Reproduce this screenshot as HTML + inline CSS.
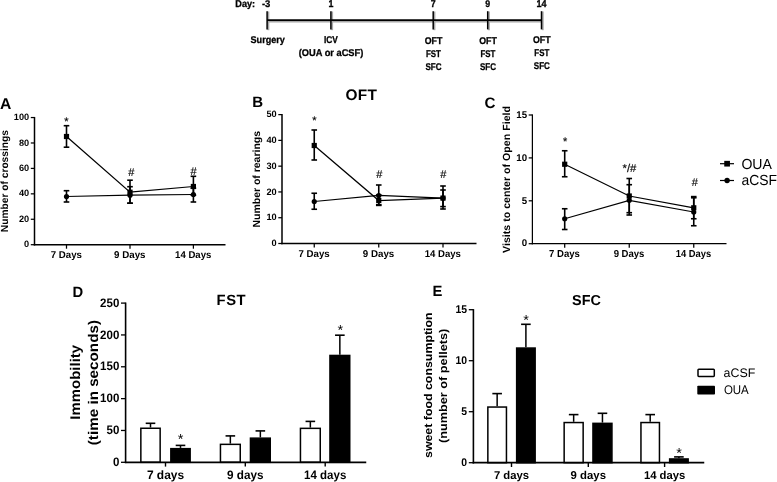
<!DOCTYPE html>
<html lang="en"><head><meta charset="utf-8"><title>Figure</title>
<style>html,body{margin:0;padding:0;background:#fff;}body{width:777px;height:482px;overflow:hidden;}svg{display:block;}text{font-family:'Liberation Sans', Arial, sans-serif;fill:#000;}</style>
</head><body>
<svg width="777" height="482" viewBox="0 0 777 482" text-rendering="geometricPrecision">
<rect width="777" height="482" fill="#fff"/>
<g id="timeline" stroke="#000" stroke-width="0.3">
<line x1="267" y1="21.5" x2="542.5" y2="21.5" stroke="#a8a8a8" stroke-width="1.8"/>
<line x1="268.4" y1="11.5" x2="268.4" y2="30.2" stroke="#a8a8a8" stroke-width="1.8"/>
<line x1="332.2" y1="11.5" x2="332.2" y2="30.2" stroke="#a8a8a8" stroke-width="1.8"/>
<line x1="434.5" y1="11.5" x2="434.5" y2="30.2" stroke="#a8a8a8" stroke-width="1.8"/>
<line x1="489.0" y1="11.5" x2="489.0" y2="30.2" stroke="#a8a8a8" stroke-width="1.8"/>
<line x1="542.8" y1="11.5" x2="542.8" y2="30.2" stroke="#a8a8a8" stroke-width="1.8"/>
<line x1="267.1" y1="20.1" x2="541.5" y2="20.1" stroke="#000" stroke-width="1.6" />
<line x1="267.1" y1="11.2" x2="267.1" y2="29.4" stroke="#000" stroke-width="1.5" />
<line x1="330.9" y1="11.2" x2="330.9" y2="29.4" stroke="#000" stroke-width="1.5" />
<line x1="433.2" y1="11.2" x2="433.2" y2="29.4" stroke="#000" stroke-width="1.5" />
<line x1="487.7" y1="11.2" x2="487.7" y2="29.4" stroke="#000" stroke-width="1.5" />
<line x1="541.5" y1="11.2" x2="541.5" y2="29.4" stroke="#000" stroke-width="1.5" />
<text x="235.3" y="6.9" font-size="9.8" font-weight="bold" text-anchor="start" textLength="19.8" lengthAdjust="spacingAndGlyphs" >Day:</text>
<text x="261.9" y="6.9" font-size="9.8" font-weight="bold" text-anchor="start" textLength="8.4" lengthAdjust="spacingAndGlyphs" >-3</text>
<text x="328.45" y="6.9" font-size="9.8" font-weight="bold" text-anchor="start" textLength="4.9" lengthAdjust="spacingAndGlyphs" >1</text>
<text x="430.75" y="6.9" font-size="9.8" font-weight="bold" text-anchor="start" textLength="4.9" lengthAdjust="spacingAndGlyphs" >7</text>
<text x="485.25" y="6.9" font-size="9.8" font-weight="bold" text-anchor="start" textLength="4.9" lengthAdjust="spacingAndGlyphs" >9</text>
<text x="536.5" y="6.9" font-size="9.8" font-weight="bold" text-anchor="start" textLength="10" lengthAdjust="spacingAndGlyphs" >14</text>
<text x="250.55" y="43.2" font-size="9.8" font-weight="bold" text-anchor="start" textLength="34.3" lengthAdjust="spacingAndGlyphs" >Surgery</text>
<text x="324.0" y="43.3" font-size="9.8" font-weight="bold" text-anchor="start" textLength="13.8" lengthAdjust="spacingAndGlyphs" >ICV</text>
<text x="298.75" y="55.8" font-size="9.8" font-weight="bold" text-anchor="start" textLength="64.5" lengthAdjust="spacingAndGlyphs" >(OUA or aCSF)</text>
<text x="424.7" y="43.5" font-size="9.8" font-weight="bold" text-anchor="start" textLength="17.6" lengthAdjust="spacingAndGlyphs" >OFT</text>
<text x="426.05" y="56.5" font-size="9.8" font-weight="bold" text-anchor="start" textLength="14.9" lengthAdjust="spacingAndGlyphs" >FST</text>
<text x="425.5" y="69.5" font-size="9.8" font-weight="bold" text-anchor="start" textLength="16" lengthAdjust="spacingAndGlyphs" >SFC</text>
<text x="479.2" y="43.5" font-size="9.8" font-weight="bold" text-anchor="start" textLength="17.6" lengthAdjust="spacingAndGlyphs" >OFT</text>
<text x="480.55" y="56.5" font-size="9.8" font-weight="bold" text-anchor="start" textLength="14.9" lengthAdjust="spacingAndGlyphs" >FST</text>
<text x="480.0" y="69.5" font-size="9.8" font-weight="bold" text-anchor="start" textLength="16" lengthAdjust="spacingAndGlyphs" >SFC</text>
<text x="533.0" y="42.7" font-size="9.8" font-weight="bold" text-anchor="start" textLength="17.6" lengthAdjust="spacingAndGlyphs" >OFT</text>
<text x="534.35" y="55.7" font-size="9.8" font-weight="bold" text-anchor="start" textLength="14.9" lengthAdjust="spacingAndGlyphs" >FST</text>
<text x="533.8" y="68.7" font-size="9.8" font-weight="bold" text-anchor="start" textLength="16" lengthAdjust="spacingAndGlyphs" >SFC</text>
</g>
<g id="panelA">
<text x="0" y="108.6" font-size="15.7" font-weight="bold" text-anchor="start" >A</text>
<line x1="34.5" y1="116.95" x2="34.5" y2="245.45" stroke="#000" stroke-width="1.5" />
<line x1="33.75" y1="244.7" x2="225.5" y2="244.7" stroke="#000" stroke-width="1.5" />
<line x1="30.8" y1="244.7" x2="34.5" y2="244.7" stroke="#000" stroke-width="1.25" />
<text x="29.2" y="247.34" font-size="9.2" font-weight="bold" text-anchor="end" >0</text>
<line x1="30.8" y1="219.27" x2="34.5" y2="219.27" stroke="#000" stroke-width="1.25" />
<text x="29.2" y="221.91" font-size="9.2" font-weight="bold" text-anchor="end" >20</text>
<line x1="30.8" y1="193.84" x2="34.5" y2="193.84" stroke="#000" stroke-width="1.25" />
<text x="29.2" y="196.48" font-size="9.2" font-weight="bold" text-anchor="end" >40</text>
<line x1="30.8" y1="168.41" x2="34.5" y2="168.41" stroke="#000" stroke-width="1.25" />
<text x="29.2" y="171.05" font-size="9.2" font-weight="bold" text-anchor="end" >60</text>
<line x1="30.8" y1="142.98" x2="34.5" y2="142.98" stroke="#000" stroke-width="1.25" />
<text x="29.2" y="145.62" font-size="9.2" font-weight="bold" text-anchor="end" >80</text>
<line x1="30.8" y1="117.55" x2="34.5" y2="117.55" stroke="#000" stroke-width="1.25" />
<text x="29.2" y="120.19" font-size="9.2" font-weight="bold" text-anchor="end" >100</text>
<line x1="66.5" y1="244.7" x2="66.5" y2="248.7" stroke="#000" stroke-width="1.25" />
<text x="50.7" y="257.6" font-size="9.9" font-weight="bold" text-anchor="start" textLength="31.2" lengthAdjust="spacingAndGlyphs" >7 Days</text>
<line x1="130.0" y1="244.7" x2="130.0" y2="248.7" stroke="#000" stroke-width="1.25" />
<text x="114.1" y="257.6" font-size="9.9" font-weight="bold" text-anchor="start" textLength="31.4" lengthAdjust="spacingAndGlyphs" >9 Days</text>
<line x1="193.4" y1="244.7" x2="193.4" y2="248.7" stroke="#000" stroke-width="1.25" />
<text x="175.1" y="257.6" font-size="9.9" font-weight="bold" text-anchor="start" textLength="36.2" lengthAdjust="spacingAndGlyphs" >14 Days</text>
<text transform="translate(8.4 232.2) rotate(-90)" font-size="10.3" font-weight="bold" text-anchor="start" textLength="102.2" lengthAdjust="spacingAndGlyphs">Number of crossings</text>
<polyline points="66.5,196.5 130.0,195.2 193.4,194.5" fill="none" stroke="#000" stroke-width="1.25"/>
<polyline points="66.5,136.5 130.0,192.2 193.4,186.5" fill="none" stroke="#000" stroke-width="1.25"/>
<line x1="66.5" y1="190.7" x2="66.5" y2="202" stroke="#000" stroke-width="1.6" />
<line x1="63.7" y1="190.7" x2="69.3" y2="190.7" stroke="#000" stroke-width="1.6" />
<line x1="63.7" y1="202" x2="69.3" y2="202" stroke="#000" stroke-width="1.6" />
<circle cx="66.5" cy="196.5" r="2.6" fill="#000"/>
<line x1="130.0" y1="186.7" x2="130.0" y2="203.2" stroke="#000" stroke-width="1.6" />
<line x1="127.2" y1="186.7" x2="132.8" y2="186.7" stroke="#000" stroke-width="1.6" />
<line x1="127.2" y1="203.2" x2="132.8" y2="203.2" stroke="#000" stroke-width="1.6" />
<circle cx="130.0" cy="195.2" r="2.6" fill="#000"/>
<line x1="193.4" y1="188.2" x2="193.4" y2="202" stroke="#000" stroke-width="1.6" />
<line x1="190.6" y1="188.2" x2="196.2" y2="188.2" stroke="#000" stroke-width="1.6" />
<line x1="190.6" y1="202" x2="196.2" y2="202" stroke="#000" stroke-width="1.6" />
<circle cx="193.4" cy="194.5" r="2.6" fill="#000"/>
<line x1="66.5" y1="125.7" x2="66.5" y2="147.2" stroke="#000" stroke-width="1.6" />
<line x1="63.7" y1="125.7" x2="69.3" y2="125.7" stroke="#000" stroke-width="1.6" />
<line x1="63.7" y1="147.2" x2="69.3" y2="147.2" stroke="#000" stroke-width="1.6" />
<rect x="63.9" y="133.9" width="5.2" height="5.2" fill="#000"/>
<line x1="130.0" y1="180.2" x2="130.0" y2="203.2" stroke="#000" stroke-width="1.6" />
<line x1="127.2" y1="180.2" x2="132.8" y2="180.2" stroke="#000" stroke-width="1.6" />
<line x1="127.2" y1="203.2" x2="132.8" y2="203.2" stroke="#000" stroke-width="1.6" />
<rect x="127.4" y="189.6" width="5.2" height="5.2" fill="#000"/>
<line x1="193.4" y1="176.3" x2="193.4" y2="195.2" stroke="#000" stroke-width="1.6" />
<line x1="190.6" y1="176.3" x2="196.2" y2="176.3" stroke="#000" stroke-width="1.6" />
<line x1="190.6" y1="195.2" x2="196.2" y2="195.2" stroke="#000" stroke-width="1.6" />
<rect x="190.8" y="183.9" width="5.2" height="5.2" fill="#000"/>
<text x="66.5" y="124.65" font-size="11" font-weight="normal" text-anchor="middle" fill="#222" stroke="#222" stroke-width="0.2">*</text>
<text x="131.3" y="175.6" font-size="11" font-weight="normal" text-anchor="middle" fill="#222" stroke="#222" stroke-width="0.2">#</text>
<text x="193.6" y="174.6" font-size="11" font-weight="normal" text-anchor="middle" fill="#222" stroke="#222" stroke-width="0.2">#</text>
</g>
<g id="panelB">
<text x="252.2" y="107.4" font-size="15" font-weight="bold" text-anchor="start" >B</text>
<line x1="282" y1="114.0" x2="282" y2="244.25" stroke="#000" stroke-width="1.5" />
<line x1="281.25" y1="243.5" x2="476.5" y2="243.5" stroke="#000" stroke-width="1.5" />
<line x1="278.3" y1="243.5" x2="282" y2="243.5" stroke="#000" stroke-width="1.25" />
<text x="276.7" y="246.14" font-size="9.2" font-weight="bold" text-anchor="end" >0</text>
<line x1="278.3" y1="217.72" x2="282" y2="217.72" stroke="#000" stroke-width="1.25" />
<text x="276.7" y="220.36" font-size="9.2" font-weight="bold" text-anchor="end" >10</text>
<line x1="278.3" y1="191.94" x2="282" y2="191.94" stroke="#000" stroke-width="1.25" />
<text x="276.7" y="194.58" font-size="9.2" font-weight="bold" text-anchor="end" >20</text>
<line x1="278.3" y1="166.16" x2="282" y2="166.16" stroke="#000" stroke-width="1.25" />
<text x="276.7" y="168.8" font-size="9.2" font-weight="bold" text-anchor="end" >30</text>
<line x1="278.3" y1="140.38" x2="282" y2="140.38" stroke="#000" stroke-width="1.25" />
<text x="276.7" y="143.02" font-size="9.2" font-weight="bold" text-anchor="end" >40</text>
<line x1="278.3" y1="114.6" x2="282" y2="114.6" stroke="#000" stroke-width="1.25" />
<text x="276.7" y="117.24" font-size="9.2" font-weight="bold" text-anchor="end" >50</text>
<line x1="314.25" y1="243.5" x2="314.25" y2="247.5" stroke="#000" stroke-width="1.25" />
<text x="298.45" y="257.3" font-size="9.9" font-weight="bold" text-anchor="start" textLength="31.2" lengthAdjust="spacingAndGlyphs" >7 Days</text>
<line x1="378.75" y1="243.5" x2="378.75" y2="247.5" stroke="#000" stroke-width="1.25" />
<text x="362.85" y="257.3" font-size="9.9" font-weight="bold" text-anchor="start" textLength="31.4" lengthAdjust="spacingAndGlyphs" >9 Days</text>
<line x1="443" y1="243.5" x2="443" y2="247.5" stroke="#000" stroke-width="1.25" />
<text x="424.7" y="257.3" font-size="9.9" font-weight="bold" text-anchor="start" textLength="36.2" lengthAdjust="spacingAndGlyphs" >14 Days</text>
<text transform="translate(260 227.5) rotate(-90)" font-size="10.3" font-weight="bold" text-anchor="start" textLength="96.5" lengthAdjust="spacingAndGlyphs">Number of rearings</text>
<polyline points="314.25,201.5 378.75,195.5 443,198.1" fill="none" stroke="#000" stroke-width="1.25"/>
<polyline points="314.25,145.5 378.75,200.5 443,198.1" fill="none" stroke="#000" stroke-width="1.25"/>
<line x1="314.25" y1="193.25" x2="314.25" y2="209.25" stroke="#000" stroke-width="1.6" />
<line x1="311.45" y1="193.25" x2="317.05" y2="193.25" stroke="#000" stroke-width="1.6" />
<line x1="311.45" y1="209.25" x2="317.05" y2="209.25" stroke="#000" stroke-width="1.6" />
<circle cx="314.25" cy="201.5" r="2.6" fill="#000"/>
<line x1="378.75" y1="185" x2="378.75" y2="205.4" stroke="#000" stroke-width="1.6" />
<line x1="375.95" y1="185" x2="381.55" y2="185" stroke="#000" stroke-width="1.6" />
<line x1="375.95" y1="205.4" x2="381.55" y2="205.4" stroke="#000" stroke-width="1.6" />
<circle cx="378.75" cy="195.5" r="2.6" fill="#000"/>
<line x1="443" y1="186" x2="443" y2="209.0" stroke="#000" stroke-width="1.6" />
<line x1="440.2" y1="186" x2="445.8" y2="186" stroke="#000" stroke-width="1.6" />
<line x1="440.2" y1="209.0" x2="445.8" y2="209.0" stroke="#000" stroke-width="1.6" />
<circle cx="443" cy="198.1" r="2.6" fill="#000"/>
<line x1="314.25" y1="130" x2="314.25" y2="160" stroke="#000" stroke-width="1.6" />
<line x1="311.45" y1="130" x2="317.05" y2="130" stroke="#000" stroke-width="1.6" />
<line x1="311.45" y1="160" x2="317.05" y2="160" stroke="#000" stroke-width="1.6" />
<rect x="311.65" y="142.9" width="5.2" height="5.2" fill="#000"/>
<line x1="378.75" y1="195" x2="378.75" y2="204.7" stroke="#000" stroke-width="1.6" />
<line x1="375.95" y1="195" x2="381.55" y2="195" stroke="#000" stroke-width="1.6" />
<line x1="375.95" y1="204.7" x2="381.55" y2="204.7" stroke="#000" stroke-width="1.6" />
<rect x="376.15" y="197.9" width="5.2" height="5.2" fill="#000"/>
<line x1="443" y1="190" x2="443" y2="206.6" stroke="#000" stroke-width="1.6" />
<line x1="440.2" y1="190" x2="445.8" y2="190" stroke="#000" stroke-width="1.6" />
<line x1="440.2" y1="206.6" x2="445.8" y2="206.6" stroke="#000" stroke-width="1.6" />
<rect x="440.4" y="195.5" width="5.2" height="5.2" fill="#000"/>
<text x="314.4" y="124.45" font-size="11" font-weight="normal" text-anchor="middle" fill="#222" stroke="#222" stroke-width="0.2">*</text>
<text x="379.4" y="178.3" font-size="11" font-weight="normal" text-anchor="middle" fill="#222" stroke="#222" stroke-width="0.2">#</text>
<text x="443.3" y="178.3" font-size="11" font-weight="normal" text-anchor="middle" fill="#222" stroke="#222" stroke-width="0.2">#</text>
</g>
<text x="361.3" y="99.5" font-size="15.4" font-weight="bold" text-anchor="middle" letter-spacing="0.3">OFT</text>
<g id="panelC">
<text x="484.6" y="108.0" font-size="15.2" font-weight="bold" text-anchor="start" >C</text>
<line x1="532.4" y1="114.4" x2="532.4" y2="244.32" stroke="#000" stroke-width="1.25" />
<line x1="531.77" y1="243.7" x2="726.5" y2="243.7" stroke="#000" stroke-width="1.25" />
<line x1="528.7" y1="243.7" x2="532.4" y2="243.7" stroke="#000" stroke-width="1.25" />
<text x="527.1" y="246.48" font-size="9.7" font-weight="bold" text-anchor="end" >0</text>
<line x1="528.7" y1="200.8" x2="532.4" y2="200.8" stroke="#000" stroke-width="1.25" />
<text x="527.1" y="203.58" font-size="9.7" font-weight="bold" text-anchor="end" >5</text>
<line x1="528.7" y1="157.9" x2="532.4" y2="157.9" stroke="#000" stroke-width="1.25" />
<text x="527.1" y="160.68" font-size="9.7" font-weight="bold" text-anchor="end" >10</text>
<line x1="528.7" y1="115.0" x2="532.4" y2="115.0" stroke="#000" stroke-width="1.25" />
<text x="527.1" y="117.78" font-size="9.7" font-weight="bold" text-anchor="end" >15</text>
<line x1="564.7" y1="243.7" x2="564.7" y2="247.7" stroke="#000" stroke-width="1.25" />
<text x="549.1" y="257.1" font-size="10.2" font-weight="bold" text-anchor="start" textLength="30.8" lengthAdjust="spacingAndGlyphs" >7 Days</text>
<line x1="629.25" y1="243.7" x2="629.25" y2="247.7" stroke="#000" stroke-width="1.25" />
<text x="613.65" y="257.1" font-size="10.2" font-weight="bold" text-anchor="start" textLength="30.8" lengthAdjust="spacingAndGlyphs" >9 Days</text>
<line x1="693.75" y1="243.7" x2="693.75" y2="247.7" stroke="#000" stroke-width="1.25" />
<text x="675.85" y="257.1" font-size="10.2" font-weight="bold" text-anchor="start" textLength="35.4" lengthAdjust="spacingAndGlyphs" >14 Days</text>
<text transform="translate(510.3 252.9) rotate(-90)" font-size="10.4" font-weight="bold" text-anchor="start" textLength="146.9" lengthAdjust="spacingAndGlyphs">Visits to center of Open Field</text>
<polyline points="564.7,218.75 629.25,200.3 693.75,212" fill="none" stroke="#000" stroke-width="1.25"/>
<polyline points="564.7,164.25 629.25,196 693.75,207.8" fill="none" stroke="#000" stroke-width="1.25"/>
<line x1="564.7" y1="208.75" x2="564.7" y2="229.5" stroke="#000" stroke-width="1.6" />
<line x1="561.9" y1="208.75" x2="567.5" y2="208.75" stroke="#000" stroke-width="1.6" />
<line x1="561.9" y1="229.5" x2="567.5" y2="229.5" stroke="#000" stroke-width="1.6" />
<circle cx="564.7" cy="218.75" r="2.6" fill="#000"/>
<line x1="629.25" y1="184.7" x2="629.25" y2="215" stroke="#000" stroke-width="1.6" />
<line x1="626.45" y1="184.7" x2="632.05" y2="184.7" stroke="#000" stroke-width="1.6" />
<line x1="626.45" y1="215" x2="632.05" y2="215" stroke="#000" stroke-width="1.6" />
<circle cx="629.25" cy="200.3" r="2.6" fill="#000"/>
<line x1="693.75" y1="197.8" x2="693.75" y2="225.75" stroke="#000" stroke-width="1.6" />
<line x1="690.95" y1="197.8" x2="696.55" y2="197.8" stroke="#000" stroke-width="1.6" />
<line x1="690.95" y1="225.75" x2="696.55" y2="225.75" stroke="#000" stroke-width="1.6" />
<circle cx="693.75" cy="212" r="2.6" fill="#000"/>
<line x1="564.7" y1="150.75" x2="564.7" y2="176.75" stroke="#000" stroke-width="1.6" />
<line x1="561.9" y1="150.75" x2="567.5" y2="150.75" stroke="#000" stroke-width="1.6" />
<line x1="561.9" y1="176.75" x2="567.5" y2="176.75" stroke="#000" stroke-width="1.6" />
<rect x="562.1" y="161.65" width="5.2" height="5.2" fill="#000"/>
<line x1="629.25" y1="178.5" x2="629.25" y2="212.7" stroke="#000" stroke-width="1.6" />
<line x1="626.45" y1="178.5" x2="632.05" y2="178.5" stroke="#000" stroke-width="1.6" />
<line x1="626.45" y1="212.7" x2="632.05" y2="212.7" stroke="#000" stroke-width="1.6" />
<rect x="626.65" y="193.4" width="5.2" height="5.2" fill="#000"/>
<line x1="693.75" y1="196.6" x2="693.75" y2="218.75" stroke="#000" stroke-width="1.6" />
<line x1="690.95" y1="196.6" x2="696.55" y2="196.6" stroke="#000" stroke-width="1.6" />
<line x1="690.95" y1="218.75" x2="696.55" y2="218.75" stroke="#000" stroke-width="1.6" />
<rect x="691.15" y="205.2" width="5.2" height="5.2" fill="#000"/>
<text x="565.1" y="144.95" font-size="11" font-weight="normal" text-anchor="middle" fill="#222" stroke="#222" stroke-width="0.2">*</text>
<text x="629.5" y="171.8" font-size="11.3" font-weight="normal" text-anchor="middle" fill="#222" stroke="#222" stroke-width="0.2">*/#</text>
<text x="694.8" y="185.7" font-size="11" font-weight="normal" text-anchor="middle" fill="#222" stroke="#222" stroke-width="0.2">#</text>
</g>
<line x1="720" y1="163.7" x2="734" y2="163.7" stroke="#000" stroke-width="1.2" />
<rect x="724.25" y="160.85" width="5.7" height="5.7" fill="#000"/>
<line x1="720" y1="180.5" x2="734" y2="180.5" stroke="#000" stroke-width="1.2" />
<circle cx="727.1" cy="180.5" r="2.7" fill="#000"/>
<text x="741.4" y="168.7" font-size="14.6" font-weight="normal" text-anchor="start" textLength="30.5" lengthAdjust="spacingAndGlyphs" >OUA</text>
<text x="741.4" y="184.9" font-size="14.6" font-weight="normal" text-anchor="start" textLength="35.6" lengthAdjust="spacingAndGlyphs" >aCSF</text>
<g id="panelD">
<text x="72.6" y="297.2" font-size="14.8" font-weight="bold" text-anchor="start" >D</text>
<text x="231.4" y="305.4" font-size="14.8" font-weight="bold" text-anchor="middle" letter-spacing="0.55">FST</text>
<line x1="150.5" y1="423.3" x2="150.5" y2="427.5" stroke="#000" stroke-width="1.5" />
<line x1="145.7" y1="423.3" x2="155.3" y2="423.3" stroke="#000" stroke-width="1.6" />
<rect x="140.85" y="428.25" width="19.3" height="34.05" fill="#fff" stroke="#000" stroke-width="1.5"/>
<line x1="180.5" y1="445.4" x2="180.5" y2="447.9" stroke="#000" stroke-width="1.5" />
<line x1="175.7" y1="445.4" x2="185.3" y2="445.4" stroke="#000" stroke-width="1.6" />
<rect x="170.85" y="448.65" width="19.3" height="13.65" fill="#000" stroke="#000" stroke-width="1.5"/>
<line x1="230.35" y1="435.9" x2="230.35" y2="443.6" stroke="#000" stroke-width="1.5" />
<line x1="225.55" y1="435.9" x2="235.15" y2="435.9" stroke="#000" stroke-width="1.6" />
<rect x="220.45" y="444.35" width="19.8" height="17.95" fill="#fff" stroke="#000" stroke-width="1.5"/>
<line x1="260.35" y1="430.9" x2="260.35" y2="437.4" stroke="#000" stroke-width="1.5" />
<line x1="255.55" y1="430.9" x2="265.15" y2="430.9" stroke="#000" stroke-width="1.6" />
<rect x="250.45" y="438.15" width="19.8" height="24.15" fill="#000" stroke="#000" stroke-width="1.5"/>
<line x1="310.35" y1="421.4" x2="310.35" y2="427.6" stroke="#000" stroke-width="1.5" />
<line x1="305.55" y1="421.4" x2="315.15" y2="421.4" stroke="#000" stroke-width="1.6" />
<rect x="300.45" y="428.35" width="19.8" height="33.95" fill="#fff" stroke="#000" stroke-width="1.5"/>
<line x1="339.85" y1="335.2" x2="339.85" y2="354.7" stroke="#000" stroke-width="1.5" />
<line x1="335.05" y1="335.2" x2="344.65" y2="335.2" stroke="#000" stroke-width="1.6" />
<rect x="329.95" y="355.45" width="19.8" height="106.85" fill="#000" stroke="#000" stroke-width="1.5"/>
<line x1="125.6" y1="302.5" x2="125.6" y2="463.1" stroke="#000" stroke-width="1.6" />
<line x1="124.8" y1="462.3" x2="366.25" y2="462.3" stroke="#000" stroke-width="1.7" />
<line x1="121.0" y1="462.3" x2="125.6" y2="462.3" stroke="#000" stroke-width="1.3" />
<text x="112.89" y="465.9" font-size="12.2" font-weight="bold" text-anchor="start" textLength="6.41" lengthAdjust="spacingAndGlyphs" >0</text>
<line x1="121.0" y1="430.46" x2="125.6" y2="430.46" stroke="#000" stroke-width="1.3" />
<text x="106.48" y="434.06" font-size="12.2" font-weight="bold" text-anchor="start" textLength="12.82" lengthAdjust="spacingAndGlyphs" >50</text>
<line x1="121.0" y1="398.62" x2="125.6" y2="398.62" stroke="#000" stroke-width="1.3" />
<text x="100.07" y="402.22" font-size="12.2" font-weight="bold" text-anchor="start" textLength="19.23" lengthAdjust="spacingAndGlyphs" >100</text>
<line x1="121.0" y1="366.78" x2="125.6" y2="366.78" stroke="#000" stroke-width="1.3" />
<text x="100.07" y="370.38" font-size="12.2" font-weight="bold" text-anchor="start" textLength="19.23" lengthAdjust="spacingAndGlyphs" >150</text>
<line x1="121.0" y1="334.94" x2="125.6" y2="334.94" stroke="#000" stroke-width="1.3" />
<text x="100.07" y="338.54" font-size="12.2" font-weight="bold" text-anchor="start" textLength="19.23" lengthAdjust="spacingAndGlyphs" >200</text>
<line x1="121.0" y1="303.1" x2="125.6" y2="303.1" stroke="#000" stroke-width="1.3" />
<text x="100.07" y="306.7" font-size="12.2" font-weight="bold" text-anchor="start" textLength="19.23" lengthAdjust="spacingAndGlyphs" >250</text>
<line x1="165.5" y1="462.3" x2="165.5" y2="466.6" stroke="#000" stroke-width="1.4" />
<text x="146.9" y="478.9" font-size="12.2" font-weight="bold" text-anchor="start" textLength="37.2" lengthAdjust="spacingAndGlyphs" >7 days</text>
<line x1="245.3" y1="462.3" x2="245.3" y2="466.6" stroke="#000" stroke-width="1.4" />
<text x="227.05" y="478.9" font-size="12.2" font-weight="bold" text-anchor="start" textLength="36.5" lengthAdjust="spacingAndGlyphs" >9 days</text>
<line x1="325.2" y1="462.3" x2="325.2" y2="466.6" stroke="#000" stroke-width="1.4" />
<text x="304.1" y="478.9" font-size="12.2" font-weight="bold" text-anchor="start" textLength="42.2" lengthAdjust="spacingAndGlyphs" >14 days</text>
</g>
<text transform="translate(80.3 419.7) rotate(-90)" font-size="14" font-weight="bold" text-anchor="start" textLength="74.8" lengthAdjust="spacingAndGlyphs">Immobility</text>
<text transform="translate(98.3 445.2) rotate(-90)" font-size="14" font-weight="bold" text-anchor="start" textLength="125.2" lengthAdjust="spacingAndGlyphs">(time in seconds)</text>
<text x="180.6" y="444.4" font-size="14.5" font-weight="normal" text-anchor="middle" fill="#222">*</text>
<text x="340.4" y="334.8" font-size="14.5" font-weight="normal" text-anchor="middle" fill="#222">*</text>
<g id="panelE">
<text x="432.5" y="296" font-size="14.8" font-weight="bold" text-anchor="start" >E</text>
<text x="586.5" y="305.4" font-size="14.4" font-weight="bold" text-anchor="middle" letter-spacing="0">SFC</text>
<line x1="497.15" y1="393.6" x2="497.15" y2="406.3" stroke="#000" stroke-width="1.5" />
<line x1="492.35" y1="393.6" x2="501.95" y2="393.6" stroke="#000" stroke-width="1.6" />
<rect x="487.85" y="407.05" width="18.6" height="55.65" fill="#fff" stroke="#000" stroke-width="1.5"/>
<line x1="525.9" y1="324.3" x2="525.9" y2="347.3" stroke="#000" stroke-width="1.5" />
<line x1="521.1" y1="324.3" x2="530.7" y2="324.3" stroke="#000" stroke-width="1.6" />
<rect x="516.65" y="348.05" width="18.5" height="114.65" fill="#000" stroke="#000" stroke-width="1.5"/>
<line x1="573.65" y1="414.6" x2="573.65" y2="421.8" stroke="#000" stroke-width="1.5" />
<line x1="568.85" y1="414.6" x2="578.45" y2="414.6" stroke="#000" stroke-width="1.6" />
<rect x="564.15" y="422.55" width="19.0" height="40.15" fill="#fff" stroke="#000" stroke-width="1.5"/>
<line x1="602.45" y1="413.3" x2="602.45" y2="422.6" stroke="#000" stroke-width="1.5" />
<line x1="597.65" y1="413.3" x2="607.25" y2="413.3" stroke="#000" stroke-width="1.6" />
<rect x="592.95" y="423.35" width="19.0" height="39.35" fill="#000" stroke="#000" stroke-width="1.5"/>
<line x1="650.2" y1="414.6" x2="650.2" y2="421.8" stroke="#000" stroke-width="1.5" />
<line x1="645.4" y1="414.6" x2="655.0" y2="414.6" stroke="#000" stroke-width="1.6" />
<rect x="640.95" y="422.55" width="18.5" height="40.15" fill="#fff" stroke="#000" stroke-width="1.5"/>
<line x1="678.9" y1="456.9" x2="678.9" y2="458.2" stroke="#000" stroke-width="1.5" />
<line x1="674.1" y1="456.9" x2="683.7" y2="456.9" stroke="#000" stroke-width="1.6" />
<rect x="669.65" y="458.95" width="18.5" height="3.75" fill="#000" stroke="#000" stroke-width="1.5"/>
<line x1="473.4" y1="309.1" x2="473.4" y2="463.5" stroke="#000" stroke-width="1.6" />
<line x1="472.6" y1="462.7" x2="704.25" y2="462.7" stroke="#000" stroke-width="1.7" />
<line x1="468.8" y1="462.7" x2="473.4" y2="462.7" stroke="#000" stroke-width="1.3" />
<text x="461.31" y="466.2" font-size="11.2" font-weight="bold" text-anchor="start" textLength="5.79" lengthAdjust="spacingAndGlyphs" >0</text>
<line x1="468.8" y1="411.7" x2="473.4" y2="411.7" stroke="#000" stroke-width="1.3" />
<text x="461.31" y="415.2" font-size="11.2" font-weight="bold" text-anchor="start" textLength="5.79" lengthAdjust="spacingAndGlyphs" >5</text>
<line x1="468.8" y1="360.7" x2="473.4" y2="360.7" stroke="#000" stroke-width="1.3" />
<text x="455.52" y="364.2" font-size="11.2" font-weight="bold" text-anchor="start" textLength="11.58" lengthAdjust="spacingAndGlyphs" >10</text>
<line x1="468.8" y1="309.7" x2="473.4" y2="309.7" stroke="#000" stroke-width="1.3" />
<text x="455.52" y="313.2" font-size="11.2" font-weight="bold" text-anchor="start" textLength="11.58" lengthAdjust="spacingAndGlyphs" >15</text>
<line x1="511.5" y1="462.7" x2="511.5" y2="467.0" stroke="#000" stroke-width="1.4" />
<text x="493.9" y="478.9" font-size="11.4" font-weight="bold" text-anchor="start" textLength="35.2" lengthAdjust="spacingAndGlyphs" >7 days</text>
<line x1="588.3" y1="462.7" x2="588.3" y2="467.0" stroke="#000" stroke-width="1.4" />
<text x="570.6" y="478.9" font-size="11.4" font-weight="bold" text-anchor="start" textLength="35.4" lengthAdjust="spacingAndGlyphs" >9 days</text>
<line x1="664.6" y1="462.7" x2="664.6" y2="467.0" stroke="#000" stroke-width="1.4" />
<text x="643.9" y="478.9" font-size="11.4" font-weight="bold" text-anchor="start" textLength="41.4" lengthAdjust="spacingAndGlyphs" >14 days</text>
</g>
<text transform="translate(431.9 458) rotate(-90)" font-size="11.2" font-weight="bold" text-anchor="start" textLength="145.6" lengthAdjust="spacingAndGlyphs">sweet food consumption</text>
<text transform="translate(447.2 443.0) rotate(-90)" font-size="11.2" font-weight="bold" text-anchor="start" textLength="114.3" lengthAdjust="spacingAndGlyphs">(number of pellets)</text>
<text x="526.1" y="325.1" font-size="14.5" font-weight="normal" text-anchor="middle" fill="#222">*</text>
<text x="679.1" y="458.3" font-size="14.5" font-weight="normal" text-anchor="middle" fill="#222">*</text>
<rect x="698.0" y="369.2" width="16.3" height="7.2" rx="0.8" fill="#fff" stroke="#000" stroke-width="1.5"/>
<rect x="697.3" y="385.7" width="17.7" height="8.8" rx="0.8" fill="#000"/>
<text x="723.6" y="376.6" font-size="12.4" font-weight="normal" text-anchor="start" >aCSF</text>
<text x="723.9" y="394.1" font-size="12.6" font-weight="normal" text-anchor="start" textLength="24.9" lengthAdjust="spacingAndGlyphs" >OUA</text>
</svg></body></html>
